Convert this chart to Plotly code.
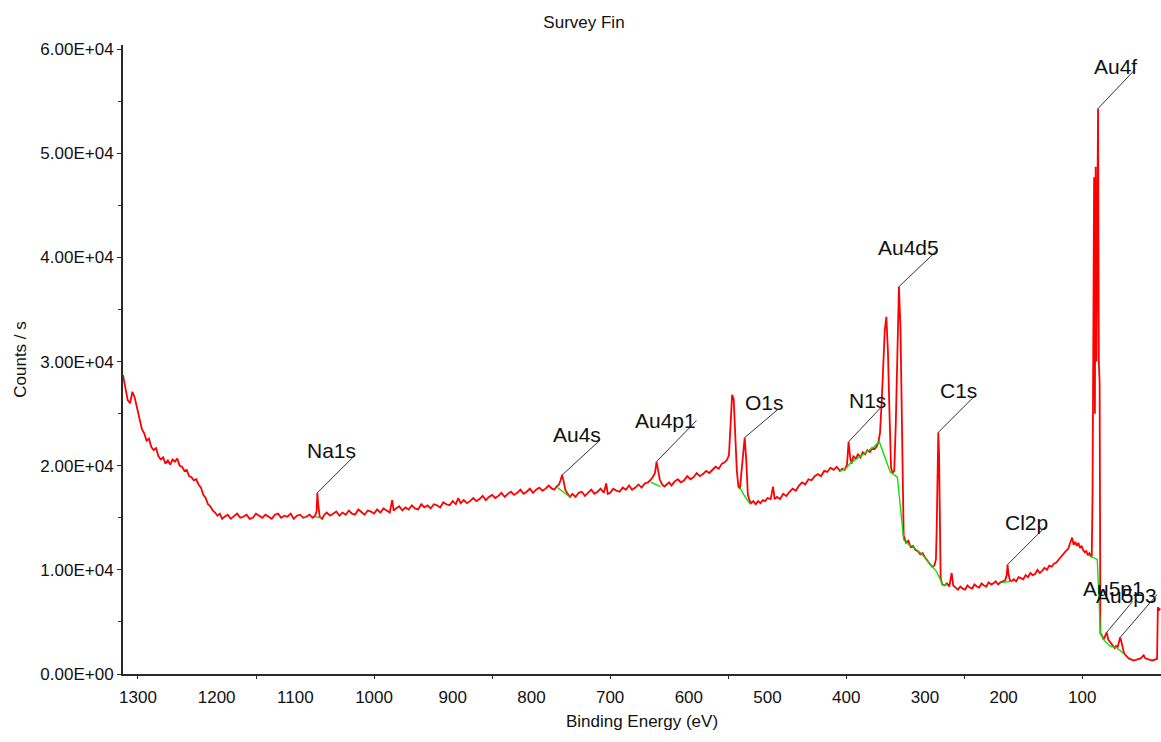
import plotly.graph_objects as go

# ---------------- data ----------------
# binding energy (eV) / counts per second, region by region (descending energy)
be_a = [1319, 1316, 1313, 1310, 1307, 1304, 1301, 1298, 1295, 1292,
        1289, 1286, 1283, 1280, 1277, 1274, 1271, 1268, 1265, 1262,
        1259, 1256, 1253, 1250, 1247, 1244, 1241, 1238, 1235, 1232,
        1229, 1226, 1223, 1220, 1217, 1214, 1211, 1208, 1205, 1202,
        1199, 1196, 1193]
cps_a = [28700, 27600, 26300, 26000, 27100, 26500, 25400, 24300, 23500, 23100,
         22400, 22600, 21800, 21500, 21700, 20900, 20600, 20800, 20200, 20500,
         20100, 20600, 20400, 20700, 20000, 19900, 19500, 19600, 19000, 18900,
         18600, 18700, 18200, 17900, 17200, 16900, 16300, 16100, 15700, 15500,
         15200, 15400, 14900]

be_b = [1190, 1186, 1182, 1178, 1174, 1170, 1166, 1162, 1158, 1154,
        1150, 1146, 1142, 1138, 1134, 1130, 1126, 1122, 1118, 1114,
        1110, 1106, 1102, 1098, 1094, 1090, 1086, 1082, 1078,
        1075, 1073, 1072, 1071, 1069, 1066, 1063]
cps_b = [15100, 15300, 14900, 15200, 15400, 15000, 15100, 15300, 14900, 15000,
         15400, 15200, 15000, 15300, 15100, 14900, 15300, 15400, 15000, 15200,
         15100, 15400, 14900, 15200, 15300, 15000, 15100, 15300, 15000,
         15200, 15600, 17400, 16300, 15100, 14900, 15300]

be_c = [1060, 1056, 1052, 1048, 1044, 1040, 1036, 1032, 1028, 1024,
        1020, 1016, 1012, 1008, 1004, 1000, 996, 992, 988, 984,
        980, 977, 975, 972, 968, 964, 960, 956, 952, 948,
        944, 940, 936, 932, 928, 924, 920, 916, 912, 908,
        904, 900, 896, 893, 890, 886, 882, 878, 874, 870,
        866, 862, 858, 854, 850, 846, 842, 838, 834, 830,
        826, 822, 818, 814, 810, 806, 802, 798, 794, 790,
        786, 782, 778, 774]
cps_c = [15500, 15200, 15400, 15600, 15200, 15500, 15300, 15700, 15400, 15300,
         15800, 15500, 15300, 15700, 15600, 15400, 15800, 15500, 15900, 15700,
         15500, 16700, 15700, 15900, 16100, 15700, 16000, 15800, 16200, 15900,
         15800, 16300, 16000, 16200, 15900, 16300, 16200, 16000, 16500, 16300,
         16200, 16600, 16300, 16900, 16400, 16700, 16400, 16600, 16900, 16600,
         16800, 17100, 16700, 17000, 17200, 16900, 17100, 17400, 17000, 17300,
         17500, 17200, 17400, 17700, 17300, 17500, 17800, 17400, 17700, 17900,
         17600, 17800, 18100, 17800]

be_d = [771, 768, 765, 763, 761, 759, 757, 754, 751, 748,
        744, 740, 736, 732, 728, 724, 720, 716, 712, 708,
        705, 703, 700, 696, 692, 688, 684, 680, 676, 672,
        668, 664, 660, 656, 652, 649, 646, 643, 641, 639,
        637, 634, 631, 628, 625, 622, 618, 614, 610, 606,
        602, 598, 594, 590, 586, 582, 578, 574, 570, 566,
        562, 558, 555, 552, 549, 547, 545, 543, 541, 539,
        537, 535, 533, 531, 529, 527, 525, 523]
cps_d = [17700, 18000, 18200, 18600, 19100, 18500, 17700, 17300, 17000, 17300,
         17000, 17400, 17500, 17100, 17400, 17700, 17300, 17500, 17800, 17400,
         18300, 17300, 17400, 17800, 17600, 17500, 17900, 17700, 18100, 17700,
         17900, 18200, 17900, 18300, 18400, 18600, 18900, 19300, 20400, 19700,
         18700, 18200, 18000, 18200, 18400, 18100, 18500, 18700, 18400, 18600,
         19000, 18700, 18900, 19300, 19000, 19200, 19500, 19300, 19600, 19900,
         19700, 20200, 20300, 20500, 21000, 24000, 26800, 26400, 23000, 19500,
         18000, 17800, 19500, 21000, 22700, 20500, 17200, 16700]

be_e = [521, 518, 515, 512, 509, 506, 503, 500, 496, 493,
        491, 488, 484, 480, 476, 472, 468, 464, 460, 456,
        452, 448, 444, 440, 436, 432, 428, 424, 420, 416,
        412, 408, 405, 402, 399, 397, 395, 393, 391, 388,
        385, 382, 379, 376, 373, 370, 367, 364, 361, 359,
        357, 355, 353, 351, 349, 347, 345, 343, 341, 339,
        337, 335, 333, 331, 329, 327, 324, 321, 318, 315,
        312, 309, 306, 303, 300, 297, 294, 291, 288, 286,
        285, 284, 283, 282, 281, 280, 278, 275, 272]
cps_e = [16400, 16600, 16300, 16600, 16400, 16700, 16600, 16900, 16800, 18000,
         16800, 17000, 16800, 17300, 17100, 17500, 17800, 17600, 18100, 18400,
         18200, 18700, 18600, 19000, 19200, 19000, 19500, 19400, 19800, 19600,
         19900, 19500, 19700, 19600, 20100, 22300, 20800, 20200, 20900, 20700,
         21100, 20800, 21300, 21100, 21500, 21300, 21700, 21600, 21900, 22300,
         23200, 26000, 30000, 33000, 34300, 31000, 25000, 19800, 19300, 19500,
         24000, 31000, 37200, 33000, 21000, 13300, 12600, 12800, 12200, 12300,
         11900, 11800, 11500, 11600, 11200, 10900, 10600, 10300, 10400, 11000,
         14000, 19000, 23200, 21000, 13000, 9200, 8600, 8500, 8700]

be_f = [269, 266, 264, 261, 258, 255, 252, 249, 246, 243,
        240, 237, 234, 231, 228, 225, 222, 219, 216, 213,
        210, 207, 204, 201, 198, 196, 195, 194, 192, 190,
        187, 184, 181, 178, 175, 172, 169, 166, 163, 160,
        157, 154, 151, 148, 145, 142, 139, 136, 133, 130,
        127, 124, 121, 118, 115, 113, 111, 109, 107, 105,
        103, 101, 99, 97, 95, 93, 91, 89, 88, 87,
        86, 85, 84, 83, 82, 81, 80, 79, 78, 77,
        75, 73, 71, 69, 67, 65, 63, 61, 59, 57,
        55, 53, 52, 51, 49, 47, 45, 43, 41, 38,
        35, 32, 29, 26, 24, 22, 20, 17, 14, 11,
        8, 6, 5, 4, 2, 1]
cps_f = [8400, 9700, 8500, 8300, 8100, 8400, 8200, 8100, 8500, 8300,
         8200, 8600, 8400, 8300, 8700, 8500, 8400, 8800, 8600, 8700,
         8900, 8600, 8800, 8900, 9000, 9500, 10500, 9700, 9000, 8900,
         9100, 8900, 9300, 9200, 9100, 9500, 9300, 9700, 9500, 9600,
         10000, 9700, 9900, 10200, 10000, 10400, 10300, 10600, 10700, 11000,
         11300, 11500, 11800, 12000, 12600, 13100, 12400, 12700, 12300, 12600,
         12100, 12300, 11900, 11700, 11800, 11400, 11600, 11300, 11200, 17000,
         40000, 47700, 25000, 48700, 30000, 50500, 54300, 30000, 28000, 3900,
         3700, 3300, 3600, 4000, 3300, 3100, 2900, 2600, 2500, 2700,
         2600, 3200, 3500, 3300, 2500, 2000, 1800, 1600, 1500, 1400,
         1300, 1350, 1400, 1500, 1650, 1800, 1500, 1400, 1350, 1300,
         1350, 1400, 1450, 6400, 6200, 6300]

# background (green) segments under the peaks
bg_segments = [
    ([1075, 1067], [15100, 15000]),
    ([767, 751], [17900, 17000]),
    ([648, 636], [18400, 18000]),
    ([535, 530, 522], [17900, 17200, 16300]),
    ([408, 401, 394, 380, 365, 358, 344, 335, 327, 322, 315, 305, 297, 290, 285, 280, 277, 272],
     [19500, 19700, 20300, 21000, 21800, 22300, 19400, 18900, 12900, 12500, 12200, 11600, 10900,
      10300, 9800, 9000, 8500, 8600]),
    ([202, 189], [8800, 8900]),
    ([92, 84, 81, 77, 73, 65, 56, 48], [11400, 11100, 11000, 3900, 3300, 2700, 2500, 2000]),
]

# peak labels
label_names = ["Na1s", "Au4s", "Au4p1", "O1s", "N1s", "Au4d5", "C1s", "Cl2p", "Au4f", "Au5p1", "Au5p3"]
label_be = [1072, 761, 641, 529, 397, 333, 283, 195, 80, 69, 52]

# axis ticks
x_label_vals = [1300, 1200, 1100, 1000, 900, 800, 700, 600, 500, 400, 300, 200, 100]
x_label_text = ["1300", "1200", "1100", "1000", "900", "800", "700", "600", "500", "400", "300", "200", "100"]
x_mark_vals = [1300, 1150, 1000, 850, 700, 550, 400, 250, 100]
y_vals = [0, 10000, 20000, 30000, 40000, 50000, 60000]
y_text = ["0.00E+00", "1.00E+04", "2.00E+04", "3.00E+04", "4.00E+04", "5.00E+04", "6.00E+04"]

# ---------------- styling (pixel offsets of leader lines / label text) ----------------
line_off = {"Na1s": (36, 36), "Au4s": (38, 35), "Au4p1": (40, 41), "O1s": (33, 28), "N1s": (33, 35),
            "Au4d5": (39, 37), "C1s": (37, 37), "Cl2p": (38, 38), "Au4f": (37, 39),
            "Au5p1": (26, 31), "Au5p3": (37, 43)}
text_off = {"Na1s": (41, 42), "Au4s": (41, 41), "Au4p1": (41, 41), "O1s": (41, 35), "N1s": (39, 41),
            "Au4d5": (42, 39), "C1s": (41, 42), "Cl2p": (42, 42), "Au4f": (41, 42),
            "Au5p1": (39, 44), "Au5p3": (39, 42)}

FONT = "Liberation Sans, Arial, sans-serif"
TXT = "#111111"
AX = "#2a2a2a"

be = be_a + be_b + be_c + be_d + be_e + be_f
cps = cps_a + cps_b + cps_c + cps_d + cps_e + cps_f
assert len(be) == len(cps)
lookup = dict(zip(be, cps))

bg_x, bg_y = [], []
for xs, ys in bg_segments:
    bg_x += xs + [None]
    bg_y += ys + [None]

fig = go.Figure()
fig.add_trace(go.Scatter(x=be, y=cps, mode="lines", line=dict(color="#ff0000", width=1.8),
                         hoverinfo="skip", xaxis="x", yaxis="y"))
fig.add_trace(go.Scatter(x=bg_x, y=bg_y, mode="lines", line=dict(color="#00e000", width=1.3),
                         hoverinfo="skip", xaxis="x2", yaxis="y", connectgaps=False))

shapes = []
annotations = []
for name, e in zip(label_names, label_be):
    c = lookup[e]
    dx, dy = line_off[name]
    tx, ty = text_off[name]
    shapes.append(dict(type="line", xref="x", yref="y", xsizemode="pixel", ysizemode="pixel",
                       xanchor=e, yanchor=c, x0=0, y0=0, x1=dx, y1=dy,
                       line=dict(color="#333333", width=1)))
    annotations.append(dict(x=e, y=c, xref="x", yref="y", text=name, showarrow=False,
                            xanchor="right", yanchor="middle", xshift=tx, yshift=ty,
                            font=dict(family=FONT, size=21, color=TXT)))

fig.update_layout(
    width=1161, height=742,
    margin=dict(l=123, r=0, t=45, b=68),
    paper_bgcolor="white", plot_bgcolor="white",
    showlegend=False,
    title=dict(text="Survey Fin", x=0.503, xref="container", xanchor="center",
               y=1 - 22 / 742, yref="container", yanchor="middle",
               font=dict(family=FONT, size=17, color=TXT)),
    xaxis=dict(range=[1319, 0], tickmode="array", tickvals=x_label_vals, ticktext=x_label_text,
               ticks="outside", ticklen=7, tickcolor="rgba(0,0,0,0)",
               showline=True, linecolor=AX, linewidth=2, showgrid=False, zeroline=False,
               tickfont=dict(family=FONT, size=17, color=TXT),
               title=dict(text="Binding Energy (eV)", standoff=9,
                          font=dict(family=FONT, size=17, color=TXT))),
    xaxis2=dict(range=[1319, 0], overlaying="x", anchor="y", side="bottom",
                tickmode="array", tickvals=x_mark_vals, ticks="outside", ticklen=4,
                tickwidth=1, tickcolor=AX, showticklabels=False, showline=False,
                showgrid=False, zeroline=False),
    yaxis=dict(range=[0, 60400], tickmode="array", tickvals=y_vals, ticktext=y_text,
               ticks="outside", ticklen=4, tickwidth=1, tickcolor=AX,
               minor=dict(dtick=5000, tick0=0, ticks="outside", ticklen=3, tickcolor=AX),
               showline=True, linecolor=AX, linewidth=2, showgrid=False, zeroline=False,
               tickfont=dict(family=FONT, size=17, color=TXT),
               title=dict(text="Counts / s", standoff=9,
                          font=dict(family=FONT, size=17, color=TXT))),
    shapes=shapes,
    annotations=annotations,
)

fig.write_html("out.html", config={"displayModeBar": False},
               post_script="document.body.style.margin='0';")
